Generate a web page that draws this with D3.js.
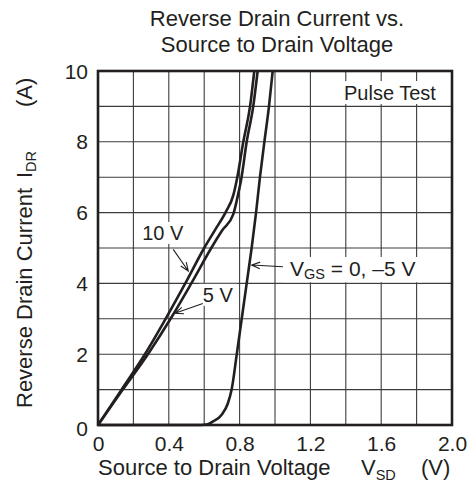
<!DOCTYPE html>
<html>
<head>
<meta charset="utf-8">
<script src="https://cdn.jsdelivr.net/npm/d3@7"></script>
<style>
  html, body { margin: 0; padding: 0; background: #fff; }
  svg { display: block; font-family: "Liberation Sans", Arial, sans-serif; }
  text { fill: #231f20; }
</style>
</head>
<body>
<svg id="chart" width="469" height="487"></svg>
<script>
// ---- data ----
const titleLines = ["Reverse Drain Current vs.", "Source to Drain Voltage"];
const xTicks = [0, 0.4, 0.8, 1.2, 1.6, 2.0];
const xTickLabels = ["0", "0.4", "0.8", "1.2", "1.6", "2.0"];
const yTicks = [0, 2, 4, 6, 8, 10];
const yTickLabels = ["0", "2", "4", "6", "8", "10"];
const xGrid = [0.2, 0.4, 0.6, 0.8, 1.0, 1.2, 1.4, 1.6, 1.8];
const yGrid = [1, 2, 3, 4, 5, 6, 7, 8, 9];

// V_GS = 10 V
const vsd10 = [0, 0.133, 0.265, 0.382, 0.493, 0.600, 0.660, 0.720, 0.765, 0.787, 0.821, 0.859, 0.883];
const idr10 = [0, 1, 2, 3, 4, 5, 5.5, 6, 6.5, 7, 8, 9, 10];
// V_GS = 5 V
const vsd5 = [0, 0.140, 0.282, 0.410, 0.527, 0.640, 0.702, 0.764, 0.791, 0.811, 0.840, 0.877, 0.902];
const idr5 = [0, 1, 2, 3, 4, 5, 5.5, 5.95, 6.5, 7, 8, 9, 10];
// V_GS = 0, -5 V
const vsd0 = [0, 0.58, 0.62, 0.65, 0.70, 0.733, 0.755, 0.784, 0.812, 0.840, 0.868, 0.893, 0.915, 0.940, 0.966, 0.987];
const idr0 = [0, 0, 0.02, 0.1, 0.3, 0.6, 1, 2, 3, 4, 5, 6, 7, 8, 9, 10];

// annotations (data coordinates)
const ann10 = { label: "10 V", x: 0.25, y: 5.23, from: [0.425, 4.96], to: [0.51, 4.35] };
const ann5 = { label: "5 V", x: 0.592, y: 3.48, from: [0.592, 3.43], to: [0.435, 3.155] };
const ann0 = { x: 1.085, y: 4.21, from: [1.045, 4.47], to: [0.868, 4.52] };
const pulse = { label: "Pulse Test", x: 1.39, y: 9.18 };

// ---- layout ----
const ink = "#231f20";
const svg = d3.select("#chart");
const pL = 98, pR = 452, pT = 71, pB = 425;
const x = d3.scaleLinear().domain([0, 2]).range([pL, pR]);
const y = d3.scaleLinear().domain([0, 10]).range([pB, pT]);

// title
svg.append("g").selectAll("text").data(titleLines).join("text")
  .attr("x", 277).attr("y", (d, i) => 25.7 + i * 26)
  .attr("text-anchor", "middle").attr("font-size", 22).text(d => d);

// grid
const grid = svg.append("g").attr("stroke", "#3c3c3c").attr("stroke-width", 1.1);
grid.selectAll("line.v").data(xGrid).join("line").attr("class", "v")
  .attr("x1", d => x(d)).attr("x2", d => x(d)).attr("y1", pT).attr("y2", pB);
grid.selectAll("line.h").data(yGrid).join("line").attr("class", "h")
  .attr("y1", d => y(d)).attr("y2", d => y(d)).attr("x1", pL).attr("x2", pR);

// axes (labels only)
const xAxis = d3.axisBottom(x).tickValues(xTicks).tickSize(0).tickPadding(11)
  .tickFormat((d, i) => xTickLabels[i]);
const gx = svg.append("g").attr("transform", `translate(0,${pB})`).call(xAxis);
const yAxis = d3.axisLeft(y).tickValues(yTicks).tickSize(0).tickPadding(10)
  .tickFormat((d, i) => yTickLabels[i]);
const gy = svg.append("g").attr("transform", `translate(${pL},0)`).call(yAxis);
[gx, gy].forEach(g => {
  g.select(".domain").remove();
  g.selectAll("text").attr("font-size", 21).attr("font-family", "Liberation Sans, Arial, sans-serif").attr("fill", ink);
});
gy.selectAll("text").attr("dy", d => d === 0 ? "0.48em" : "0.34em");

// curves
const line = d3.line().x(d => x(d[0])).y(d => y(d[1])).curve(d3.curveMonotoneX);
const series = [
  d3.zip(vsd10, idr10),
  d3.zip(vsd5, idr5),
  d3.zip(vsd0, idr0)
];
svg.append("g").selectAll("path").data(series).join("path")
  .attr("d", line).attr("fill", "none").attr("stroke", ink)
  .attr("stroke-width", 2.6).attr("stroke-linejoin", "round");

// annotation helpers
const annG = svg.append("g");
function whiteBox(textSel, padX, padTop, padBottom) {
  const b = textSel.node().getBBox();
  annG.insert("rect", ":first-child")
    .attr("x", b.x - padX).attr("y", b.y - padTop)
    .attr("width", b.width + 2 * padX).attr("height", b.height + padTop + padBottom)
    .attr("fill", "#fff");
}
function arrow(a) {
  const x1 = x(a.from[0]), y1 = y(a.from[1]), x2 = x(a.to[0]), y2 = y(a.to[1]);
  const ang = Math.atan2(y2 - y1, x2 - x1);
  const L = 9, w = 0.38;
  const p1 = [x2 - L * Math.cos(ang - w), y2 - L * Math.sin(ang - w)];
  const p2 = [x2 - L * Math.cos(ang + w), y2 - L * Math.sin(ang + w)];
  svg.append("path")
    .attr("d", `M${x1},${y1}L${x2},${y2}M${p1[0]},${p1[1]}L${x2},${y2}L${p2[0]},${p2[1]}`)
    .attr("fill", "none").attr("stroke", ink).attr("stroke-width", 1.1);
}

// Pulse Test
const tPulse = annG.append("text").attr("x", x(pulse.x)).attr("y", y(pulse.y))
  .attr("font-size", 20).text(pulse.label);
whiteBox(tPulse, 7, 1, 0);

// 10 V
const t10 = annG.append("text").attr("x", x(ann10.x)).attr("y", y(ann10.y))
  .attr("font-size", 20).text(ann10.label);
whiteBox(t10, 3, 0, 0);
arrow(ann10);

// 5 V
const t5 = annG.append("text").attr("x", x(ann5.x)).attr("y", y(ann5.y))
  .attr("font-size", 20).text(ann5.label);
whiteBox(t5, 4, 0, 0);
arrow(ann5);

// V_GS = 0, -5 V
const t0 = annG.append("text").attr("x", x(ann0.x)).attr("y", y(ann0.y)).attr("font-size", 21);
t0.append("tspan").text("V");
t0.append("tspan").attr("font-size", 14.5).attr("dy", 3.3).text("GS");
t0.append("tspan").attr("dy", -3.3).text(" = 0, \u20135 V");
whiteBox(t0, 7, 0, 0);
arrow(ann0);

// frame
svg.append("rect").attr("x", pL).attr("y", pT)
  .attr("width", pR - pL).attr("height", pB - pT)
  .attr("fill", "none").attr("stroke", ink).attr("stroke-width", 2.6);

// x label
const xl = svg.append("text").attr("y", 475).attr("font-size", 22);
xl.append("tspan").attr("x", 98).text("Source to Drain Voltage");
xl.append("tspan").attr("x", 361).text("V");
xl.append("tspan").attr("font-size", 14.5).attr("dy", 4.5).text("SD");
xl.append("tspan").attr("x", 421).attr("dy", -4.5).text("(V)");

// y label
const yl = svg.append("text").attr("transform", "translate(32,408) rotate(-90)").attr("font-size", 22);
yl.append("tspan").attr("x", 0).text("Reverse Drain Current");
yl.append("tspan").attr("x", 230).text("I");
yl.append("tspan").attr("font-size", 14.5).attr("dy", 4).text("DR");
yl.append("tspan").attr("x", 301).attr("dy", -4).text("(A)");
</script>
</body>
</html>
